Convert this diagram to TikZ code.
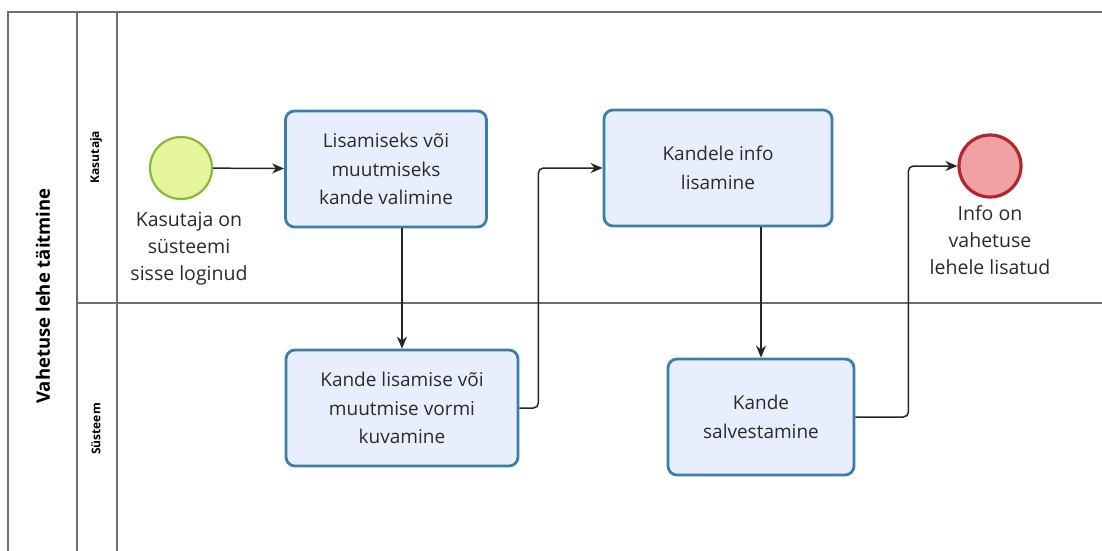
\documentclass[tikz,border=0pt]{standalone}
\usepackage{fontspec}
\setmainfont{Open Sans}
\usetikzlibrary{arrows.meta,positioning}

\definecolor{taskline}{HTML}{3B7EA8}
\definecolor{taskfill}{HTML}{E8EEFB}
\definecolor{startline}{HTML}{86B83A}
\definecolor{startfill}{HTML}{E4F59C}
\definecolor{endline}{HTML}{B3262F}
\definecolor{endfill}{HTML}{EFA1A4}
\definecolor{poolline}{HTML}{6E6E6E}
\definecolor{textcol}{HTML}{2B2B2B}

\begin{document}
\begin{tikzpicture}[
  x=1pt, y=-1pt,
  task/.style={rectangle, draw=taskline, fill=taskfill, line width=2.8pt,
    rounded corners=9pt, font=\fontsize{19}{28.5}\selectfont,
    text=textcol, align=center, minimum height=116pt, inner sep=2pt},
  startev/.style={circle, draw=startline, fill=startfill, line width=2.2pt,
    minimum size=62pt, inner sep=0pt},
  endev/.style={circle, draw=endline, fill=endfill, line width=3.2pt,
    minimum size=62pt, inner sep=0pt},
  evlbl/.style={font=\fontsize{19.5}{27}\selectfont, text=textcol,
    align=center, inner sep=1pt},
  lane/.style={draw=poolline, line width=1.6pt},
  lanelbl/.style={font=\bfseries\fontsize{12}{13}\selectfont, rotate=90},
  arr/.style={-{Stealth[length=12pt,width=10pt]}, line width=1.5pt,
    draw=black!85, rounded corners=5pt}
]
  \useasboundingbox (0,0) rectangle (1102,550);
  \fill[white] (0,0) rectangle (1102,550);

  % pool and lanes
  \draw[lane] (8,560) -- (8,12) -- (1110,12);
  \draw[lane] (77,12) -- (77,560);
  \draw[lane] (117,12) -- (117,560);
  \draw[lane] (77,303) -- (1110,303);
  \node[lanelbl, font=\bfseries\fontsize{18.5}{20}\selectfont] (pool)
    at (43,296) {Vahetuse lehe täitmine};
  \node[lanelbl] (usr) at (96,157) {Kasutaja};
  \node[lanelbl] (sys) at (96,429) {Süsteem};

  % events and tasks
  \node[startev] (start) at (181,168) {};
  \node[evlbl, below=11pt of start, xshift=8pt] (startlbl)
    {Kasutaja on\\süsteemi\\sisse loginud};
  \node[task, minimum width=201pt] (valik) at (386,169)
    {Lisamiseks või\\muutmiseks\\kande valimine};
  \node[task, minimum width=232pt] (vorm) at (402,408)
    {Kande lisamise või\\muutmise vormi\\kuvamine};
  \node[task, minimum width=228pt] (info) at (718,168)
    {Kandele info\\lisamine};
  \node[task, minimum width=186pt] (salv) at (761,417)
    {Kande\\salvestamine};
  \node[endev] (end) at (990,166) {};
  \node[evlbl, below=6pt of end] (endlbl)
    {Info on\\vahetuse\\lehele lisatud};

  % flows
  \draw[arr] (start) -- (valik);
  \draw[arr] (valik.south -| vorm) -- (vorm);
  \draw[arr] (vorm.east) -- ++(19,0) |- (info.west);
  \draw[arr] (info.south -| salv) -- (salv);
  \draw[arr] (salv.east) -- ++(53,0) |- (end.west);
\end{tikzpicture}
\end{document}
